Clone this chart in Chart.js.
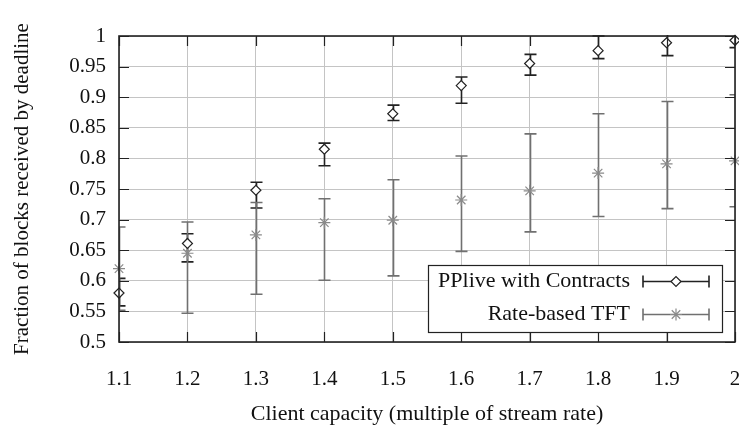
<!DOCTYPE html>
<html>
<head>
<meta charset="utf-8">
<script src="https://cdn.jsdelivr.net/npm/chart.js@4.4.0/dist/chart.umd.min.js"></script>
<style>
  html, body { margin: 0; padding: 0; background: #fff; }
  #wrap { width: 739px; height: 425px; }
</style>
</head>
<body>
<div id="wrap"><canvas id="myChart" width="739" height="425"></canvas></div>
<script>
// data
var capacity = [1.1, 1.2, 1.3, 1.4, 1.5, 1.6, 1.7, 1.8, 1.9, 2.0]
var ppliveMean = [0.580, 0.661, 0.748, 0.815, 0.873, 0.919, 0.955, 0.976, 0.989, 0.993]
var ppliveLow  = [0.559, 0.631, 0.719, 0.788, 0.862, 0.890, 0.936, 0.963, 0.968, 0.981]
var ppliveHigh = [0.604, 0.677, 0.761, 0.825, 0.887, 0.933, 0.970, 1.000, 1.010, 1.010]
var tftMean = [0.620, 0.645, 0.675, 0.695, 0.699, 0.732, 0.747, 0.776, 0.791, 0.796]
var tftLow  = [0.552, 0.547, 0.578, 0.601, 0.608, 0.648, 0.680, 0.705, 0.718, 0.721]
var tftHigh = [0.688, 0.696, 0.728, 0.734, 0.765, 0.804, 0.840, 0.873, 0.893, 0.904]
var xTicks = [1.1, 1.2, 1.3, 1.4, 1.5, 1.6, 1.7, 1.8, 1.9, 2.0]
var yTicks = [0.5, 0.55, 0.6, 0.65, 0.7, 0.75, 0.8, 0.85, 0.9, 0.95, 1]
var legendLabels = ['PPlive with Contracts', 'Rate-based TFT']

var serif = '"Liberation Serif", "DejaVu Serif", serif'

function toPoints(xs, ys) {
    return xs.map(function (x, i) { return { x: x, y: ys[i] } })
}

var seriesStyle = [
    { bar: '#222', marker: '#222', style: 'rectRot', radius: 5, low: ppliveLow, high: ppliveHigh },
    { bar: '#707070', marker: '#8a8a8a', style: 'star', radius: 6, low: tftLow, high: tftHigh }
]

// error bars, inner ticks and the boxed legend
var extras = {
    id: 'extras',
    beforeDatasetsDraw: function (chart) {
        var ctx = chart.ctx, a = chart.chartArea
        var xs = chart.scales.x, ys = chart.scales.y
        ctx.save()
        ctx.beginPath()
        ctx.rect(a.left, a.top - 1, a.right - a.left, a.bottom - a.top + 1)
        ctx.clip()
        ctx.lineWidth = 1.6
        for (let s = 0; s < seriesStyle.length; s++) {
            const st = seriesStyle[s]
            ctx.strokeStyle = st.bar
            for (let i = 0; i < capacity.length; i++) {
                const px = Math.round(xs.getPixelForValue(capacity[i])) + 0.5
                const y1 = ys.getPixelForValue(st.low[i])
                const y2 = ys.getPixelForValue(st.high[i])
                ctx.beginPath()
                ctx.moveTo(px, y1); ctx.lineTo(px, y2)
                ctx.moveTo(px - 6, y1); ctx.lineTo(px + 6, y1)
                ctx.moveTo(px - 6, y2); ctx.lineTo(px + 6, y2)
                ctx.stroke()
            }
        }
        ctx.restore()
    },
    afterDatasetsDraw: function (chart) {
        var ctx = chart.ctx, a = chart.chartArea
        var xs = chart.scales.x, ys = chart.scales.y
        ctx.save()
        ctx.strokeStyle = '#222'
        ctx.lineWidth = 1.2
        ctx.beginPath()
        yTicks.forEach(function (v) {
            const py = Math.round(ys.getPixelForValue(v)) + 0.5
            ctx.moveTo(a.left, py); ctx.lineTo(a.left + 10, py)
            ctx.moveTo(a.right, py); ctx.lineTo(a.right - 10, py)
        })
        xTicks.forEach(function (v) {
            const px = Math.round(xs.getPixelForValue(v)) + 0.5
            ctx.moveTo(px, a.bottom); ctx.lineTo(px, a.bottom - 10)
            ctx.moveTo(px, a.top); ctx.lineTo(px, a.top + 10)
        })
        ctx.stroke()
        ctx.lineWidth = 1.6
        ctx.strokeRect(a.left, a.top, a.right - a.left, a.bottom - a.top)

        // legend box
        var bx = 428.5, by = 265.5, bw = 294, bh = 67
        ctx.fillStyle = '#fff'
        ctx.fillRect(bx, by, bw, bh)
        ctx.lineWidth = 1.2
        ctx.strokeStyle = '#222'
        ctx.strokeRect(bx, by, bw, bh)
        ctx.font = '22px ' + serif
        ctx.textAlign = 'right'
        ctx.textBaseline = 'middle'
        ctx.fillStyle = '#111'
        var rows = [281, 314]
        for (let s = 0; s < seriesStyle.length; s++) {
            const st = seriesStyle[s]
            const ry = rows[s] + 0.5
            ctx.fillText(legendLabels[s], 630, ry)
            ctx.strokeStyle = st.bar
            ctx.lineWidth = 1.6
            ctx.beginPath()
            ctx.moveTo(643, ry); ctx.lineTo(709, ry)
            ctx.moveTo(643, ry - 6); ctx.lineTo(643, ry + 6)
            ctx.moveTo(709, ry - 6); ctx.lineTo(709, ry + 6)
            ctx.stroke()
            ctx.fillStyle = '#fff'
            ctx.strokeStyle = st.marker
            ctx.lineWidth = 1.2
            Chart.helpers.drawPoint(ctx, { pointStyle: st.style, radius: st.radius, rotation: 0, borderWidth: 1.2 }, 676, ry)
            ctx.fillStyle = '#111'
        }
        ctx.restore()
    }
}

var ctx = document.getElementById('myChart').getContext('2d')
var chart = new Chart(ctx, {
    type: 'scatter',
    data: {
        datasets: [{
            label: legendLabels[0],
            data: toPoints(capacity, ppliveMean),
            pointStyle: 'rectRot',
            pointRadius: 5,
            pointBorderWidth: 1.2,
            borderColor: '#222',
            backgroundColor: '#fff',
            clip: false
        }, {
            label: legendLabels[1],
            data: toPoints(capacity, tftMean),
            pointStyle: 'star',
            pointRadius: 6,
            pointBorderWidth: 1.2,
            borderColor: '#8a8a8a',
            backgroundColor: '#8a8a8a',
            clip: false
        }]
    },
    options: {
        responsive: false,
        animation: false,
        layout: { autoPadding: false, padding: { left: 0, right: 4, top: 36, bottom: 0 } },
        plugins: { legend: { display: false }, tooltip: { enabled: false } },
        scales: {
            x: {
                type: 'linear',
                min: 1.1,
                max: 2.0,
                afterBuildTicks: function (scale) {
                    scale.ticks = xTicks.map(function (v) { return { value: v } })
                },
                afterFit: function (scale) {
                    scale.height = 83
                    scale.paddingLeft = 0
                    scale.paddingRight = 0
                },
                grid: { color: '#c4c4c4', lineWidth: 1, drawTicks: false },
                border: { display: false },
                ticks: {
                    padding: 25,
                    color: '#111',
                    font: { family: serif, size: 21 },
                    maxRotation: 0,
                    callback: function (v) { return String(Math.round(v * 10) / 10) }
                },
                title: {
                    display: true,
                    text: 'Client capacity (multiple of stream rate)',
                    color: '#111',
                    font: { family: serif, size: 22 },
                    padding: { top: 0, bottom: -2 }
                }
            },
            y: {
                min: 0.5,
                max: 1,
                afterBuildTicks: function (scale) {
                    scale.ticks = yTicks.map(function (v) { return { value: v } })
                },
                afterFit: function (scale) {
                    scale.width = 119
                    scale.paddingTop = 0
                    scale.paddingBottom = 0
                },
                grid: { color: '#c4c4c4', lineWidth: 1, drawTicks: false },
                border: { display: false },
                ticks: {
                    padding: 13,
                    color: '#111',
                    font: { family: serif, size: 21 },
                    callback: function (v) { return String(Math.round(v * 100) / 100) }
                },
                title: {
                    display: true,
                    text: 'Fraction of blocks received by deadline',
                    color: '#111',
                    font: { family: serif, size: 21 },
                    padding: { top: 10, bottom: 0 }
                }
            }
        }
    },
    plugins: [extras]
})
</script>
</body>
</html>
